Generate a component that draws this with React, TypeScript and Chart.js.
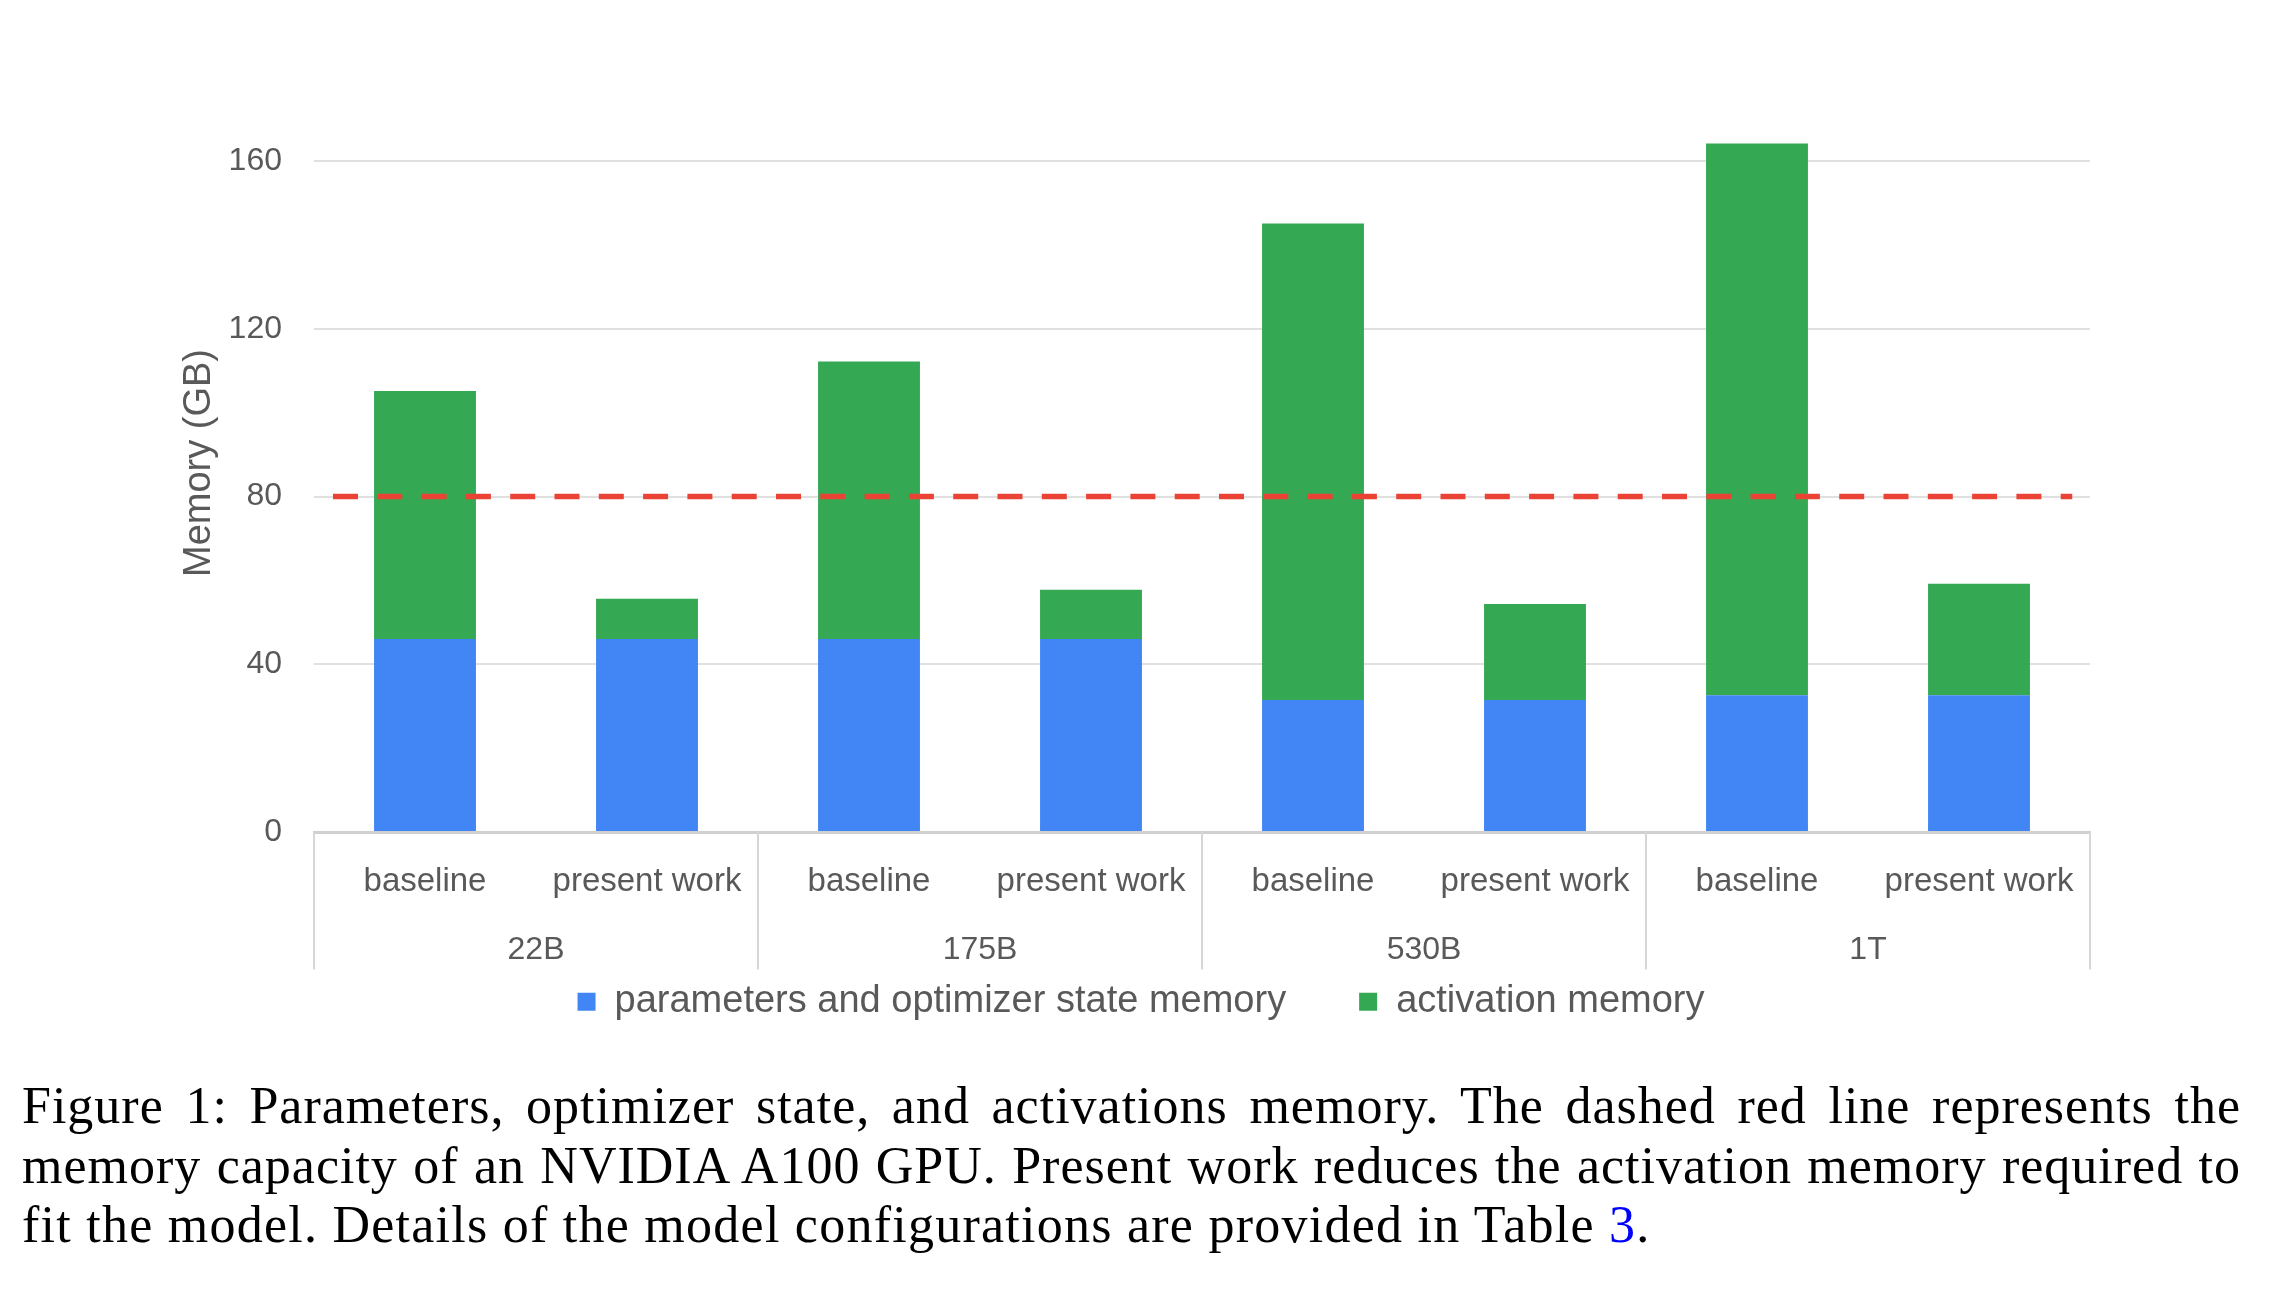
import React, { useEffect, useRef } from "react";
import { Chart, registerables } from "chart.js";

Chart.register(...registerables);

// ---- data ----
const categories = [
  "baseline", "present work",
  "baseline", "present work",
  "baseline", "present work",
  "baseline", "present work",
];
const modelGroups = ["22B", "175B", "530B", "1T"];
const paramMemory = [46, 46, 46, 46, 31.5, 31.5, 32.6, 32.6];
const activationMemory = [59.2, 9.6, 66.2, 11.8, 113.6, 22.9, 131.6, 26.6];
const yTicks = [0, 40, 80, 120, 160];
const gpuCapacity = 80;
const capacitySpan = [0.0107, 0.99];
const seriesNames = ["parameters and optimizer state memory", "activation memory"];
const yTitle = "Memory (GB)";

const TEXT = "#595959";
const FONT = "'Liberation Sans', Arial, Helvetica, sans-serif";

// vertical separators between model groups, spanning both label rows
const groupSeparators = {
  id: "groupSeparators",
  afterDraw(chart: any) {
    const xs = chart.scales.x;
    const x2 = chart.scales.x2;
    const per = categories.length / modelGroups.length;
    const t = x2.options.ticks;
    const bottom = x2.top + t.padding + t.font.size * 1.2;
    const ctx = chart.ctx;
    ctx.save();
    ctx.strokeStyle = "#d6d6d6";
    ctx.lineWidth = 2;
    for (let g = 0; g <= modelGroups.length; g++) {
      const px = xs.getPixelForValue(g * per - 0.5);
      ctx.beginPath();
      ctx.moveTo(px, chart.chartArea.bottom);
      ctx.lineTo(px, bottom);
      ctx.stroke();
    }
    ctx.restore();
  },
};

export default function App() {
  const ref = useRef<HTMLCanvasElement | null>(null);

  useEffect(() => {
    if (!ref.current) return;
    Chart.defaults.font.family = FONT;
    const chart = new Chart(ref.current, {
      type: "bar",
      data: {
        labels: categories,
        datasets: [
          {
            label: seriesNames[0],
            data: paramMemory,
            backgroundColor: "#4285f4",
            borderWidth: 0,
            order: 1,
          },
          {
            // empty spacer entry: only widens the gap between the two legend items
            label: "",
            data: [],
            backgroundColor: "rgba(0,0,0,0)",
            borderWidth: 0,
            order: 1,
          },
          {
            label: seriesNames[1],
            data: activationMemory,
            backgroundColor: "#34a853",
            borderWidth: 0,
            order: 1,
          },
          {
            type: "line",
            label: "A100 capacity",
            data: capacitySpan.map((x) => ({ x, y: gpuCapacity })),
            xAxisID: "xl",
            borderColor: "#ea4335",
            borderWidth: 5.5,
            borderDash: [25, 19.3],
            borderCapStyle: "butt",
            pointRadius: 0,
            fill: false,
            order: 0,
          } as any,
        ],
      },
      options: {
        animation: false,
        responsive: false,
        maintainAspectRatio: false,
        layout: { padding: { top: 94, bottom: 9.3, left: 0, right: 0 } },
        datasets: { bar: { categoryPercentage: 1, barPercentage: 0.459, grouped: false } } as any,
        plugins: {
          tooltip: { enabled: false },
          legend: {
            position: "bottom",
            labels: {
              boxWidth: 18,
              boxHeight: 18,
              padding: 18,
              color: TEXT,
              font: { size: 38, family: FONT },
              filter: (item: any) => item.datasetIndex < 3,
            },
          },
        },
        scales: {
          x: {
            stacked: true,
            weight: 0,
            grid: { display: false, drawTicks: false },
            border: { display: true, color: "#d0d0d0", width: 3 },
            ticks: {
              color: TEXT,
              font: { size: 33, family: FONT },
              padding: 30,
              autoSkip: false,
              maxRotation: 0,
            },
            afterFit: (s: any) => {
              s.height = 90;
            },
          },
          x2: {
            type: "category",
            labels: modelGroups,
            position: "bottom",
            weight: 1,
            offset: true,
            grid: { display: false, drawTicks: false },
            border: { display: false },
            ticks: {
              color: TEXT,
              font: { size: 32, family: FONT },
              padding: 9,
              autoSkip: false,
              maxRotation: 0,
            },
            afterFit: (s: any) => {
              s.height = 42.7;
            },
          },
          xl: {
            type: "linear",
            display: false,
            offset: false,
            grid: { offset: false },
            min: 0,
            max: 1,
          },
          y: {
            stacked: true,
            min: 0,
            max: 176,
            afterBuildTicks: (s: any) => {
              s.ticks = yTicks.map((v) => ({ value: v }));
            },
            grid: { color: "#e0e0e0", lineWidth: 2, drawTicks: false },
            border: { display: false },
            ticks: { color: TEXT, font: { size: 32, family: FONT }, padding: 32 },
            title: {
              display: true,
              text: yTitle,
              color: TEXT,
              font: { size: 38, family: FONT },
              padding: { top: 177, bottom: 0 },
            },
            afterFit: (s: any) => {
              s.width = 314;
            },
          },
          yr: {
            type: "linear",
            position: "right",
            grid: { display: false },
            border: { display: false },
            ticks: { display: false },
            afterFit: (s: any) => {
              s.width = 192;
            },
          },
        } as any,
      },
      plugins: [groupSeparators],
    });
    return () => chart.destroy();
  }, []);

  return (
    <div
      style={{
        position: "absolute",
        left: 0,
        top: 0,
        width: 2282,
        height: 1294,
        background: "#ffffff",
        overflow: "hidden",
      }}
    >
      <canvas ref={ref} width={2282} height={1040} style={{ display: "block", width: 2282, height: 1040 }} />
      <div
        style={{
          position: "absolute",
          left: 22,
          top: 1076,
          width: 2219,
          fontFamily: "'Liberation Serif', 'Times New Roman', serif",
          fontSize: 52,
          lineHeight: "59.7px",
          color: "#000",
          letterSpacing: "1px",
        }}
      >
        <div style={{ textAlign: "justify", textAlignLast: "justify" }}>
          Figure 1: Parameters, optimizer state, and activations memory. The dashed red line represents the
        </div>
        <div style={{ textAlign: "justify", textAlignLast: "justify" }}>
          memory capacity of an NVIDIA A100 GPU. Present work reduces the activation memory required to
        </div>
        <div style={{ letterSpacing: "1.25px", whiteSpace: "nowrap" }}>
          fit the model. Details of the model configurations are provided in Table{" "}
          <span style={{ color: "#0000ff" }}>3</span>.
        </div>
      </div>
    </div>
  );
}
